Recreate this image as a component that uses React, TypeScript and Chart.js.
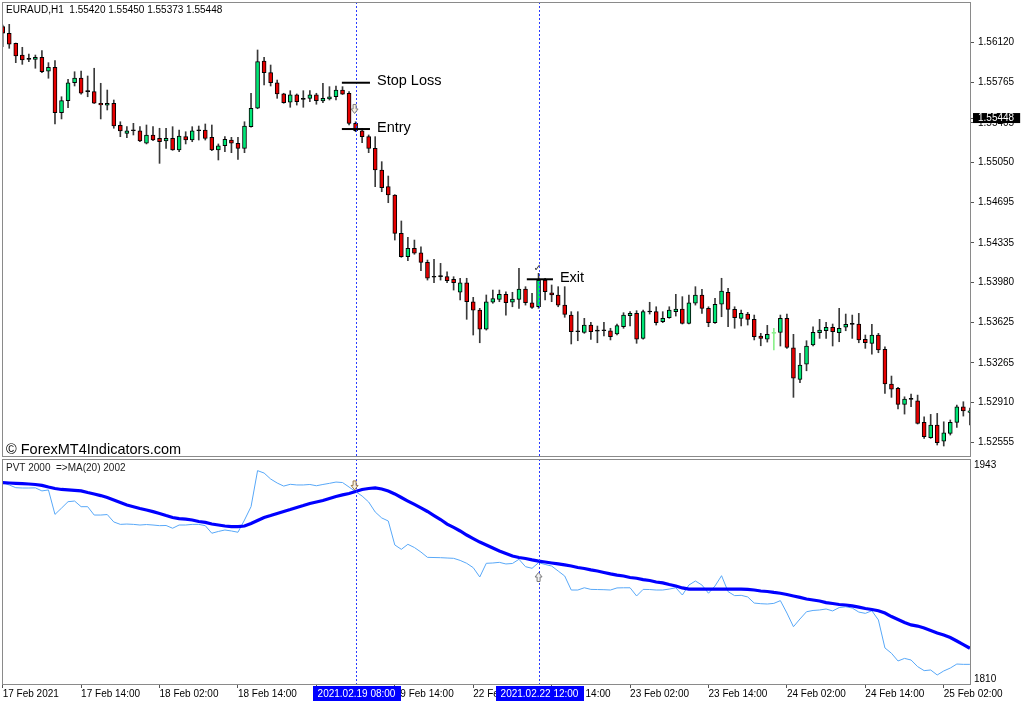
import React, { useEffect, useRef } from "react";
import { Chart, registerables } from "chart.js";

Chart.register(...registerables);

const FONT = "'Liberation Sans', Arial, sans-serif";
const SYMBOL_FONT = "'DejaVu Sans', sans-serif";

// ---------- EURAUD H1 candles (17 Feb 02:00 .. 25 Feb 06:00) ----------
const opens = [
  1.56263, 1.56204, 1.56115, 1.5601, 1.55972, 1.55972, 1.5599, 1.55865, 1.55901, 1.55496,
  1.55603, 1.55763, 1.55805, 1.55683, 1.55683, 1.5558, 1.55562, 1.5558, 1.55383, 1.55312,
  1.55335, 1.55333, 1.55223, 1.55297, 1.55267, 1.55243, 1.55267, 1.55163, 1.55282, 1.55252,
  1.55335, 1.55341, 1.55276, 1.55163, 1.55201, 1.55252, 1.55223, 1.55178, 1.55371, 1.55535,
  1.55957, 1.55853, 1.55763, 1.55663, 1.55589, 1.55654, 1.55615, 1.55624, 1.55654, 1.556,
  1.55618, 1.55638, 1.55698, 1.55669, 1.55401, 1.55333, 1.55282, 1.55178, 1.54985, 1.54836,
  1.54762, 1.5442, 1.54211, 1.54286, 1.54247, 1.54161, 1.54028, 1.54033, 1.54033, 1.5401,
  1.53894, 1.53979, 1.5381, 1.53735, 1.53564, 1.53805, 1.53831, 1.53876, 1.53805, 1.53831,
  1.53923, 1.53801, 1.53765, 1.54003, 1.5389, 1.5387, 1.5378, 1.53691, 1.53542, 1.53537,
  1.53602, 1.53548, 1.53551, 1.53551, 1.53522, 1.53587, 1.53685, 1.53706, 1.53483, 1.53718,
  1.53721, 1.53632, 1.53667, 1.53721, 1.53745, 1.53617, 1.53796, 1.5387, 1.53751, 1.53623,
  1.53787, 1.53894, 1.53742, 1.53662, 1.537, 1.53653, 1.53504, 1.53477, 1.53528, 1.53537,
  1.53662, 1.53399, 1.53118, 1.53254, 1.53424, 1.53533, 1.53551, 1.53582, 1.53533, 1.53582,
  1.53608, 1.53611, 1.53475, 1.53439, 1.53513, 1.53385, 1.53076, 1.53037, 1.52895, 1.52939,
  1.52927, 1.52734, 1.52597, 1.5271, 1.52567, 1.52636, 1.52734, 1.52873, 1.52823,
];
const highs = [
  1.56278, 1.56284, 1.56117, 1.56079, 1.56019, 1.5601, 1.56049, 1.55942, 1.5596, 1.55638,
  1.55794, 1.55861, 1.55868, 1.55823, 1.55892, 1.55758, 1.55698, 1.55609, 1.55415, 1.55371,
  1.55401, 1.55371, 1.55386, 1.55371, 1.55357, 1.55357, 1.55371, 1.55341, 1.55326, 1.55371,
  1.55377, 1.55395, 1.55386, 1.55217, 1.55282, 1.55276, 1.55276, 1.55415, 1.55669, 1.56055,
  1.5599, 1.55921, 1.55787, 1.55669, 1.55692, 1.55663, 1.55692, 1.55692, 1.55669, 1.55758,
  1.55728, 1.55734, 1.55728, 1.55683, 1.55415, 1.55357, 1.55297, 1.55282, 1.55059, 1.54931,
  1.54765, 1.5453, 1.54384, 1.5436, 1.543, 1.54182, 1.54188, 1.54152, 1.54077, 1.54033,
  1.54019, 1.54019, 1.53849, 1.53751, 1.5387, 1.53914, 1.53914, 1.53899, 1.53894, 1.54108,
  1.53944, 1.53885, 1.54063, 1.54019, 1.53959, 1.53944, 1.53944, 1.53721, 1.53721, 1.53662,
  1.53626, 1.53593, 1.53626, 1.53573, 1.53611, 1.53712, 1.53721, 1.5373, 1.53735, 1.53805,
  1.53765, 1.53721, 1.53765, 1.53876, 1.53855, 1.5387, 1.53944, 1.5392, 1.53765, 1.5384,
  1.54019, 1.53929, 1.53765, 1.53735, 1.53715, 1.53691, 1.53528, 1.53599, 1.53573, 1.53691,
  1.537, 1.53519, 1.5335, 1.53462, 1.53587, 1.53653, 1.53626, 1.53611, 1.53751, 1.537,
  1.53691, 1.53706, 1.53513, 1.53608, 1.53528, 1.53408, 1.53147, 1.53046, 1.52962, 1.52986,
  1.52977, 1.52784, 1.52805, 1.52814, 1.52739, 1.52755, 1.52888, 1.52918, 1.52861,
];
const lows = [
  1.56084, 1.5607, 1.55942, 1.55927, 1.55951, 1.55892, 1.55853, 1.55803, 1.55395, 1.5544,
  1.5554, 1.55734, 1.5566, 1.55638, 1.55578, 1.5544, 1.5552, 1.55357, 1.55282, 1.55273,
  1.55297, 1.55237, 1.55217, 1.55246, 1.55044, 1.55178, 1.5516, 1.55148, 1.55217, 1.55237,
  1.55252, 1.55252, 1.55157, 1.55074, 1.55148, 1.55139, 1.5508, 1.55139, 1.55366, 1.55531,
  1.55743, 1.55734, 1.55624, 1.5558, 1.55544, 1.55564, 1.55544, 1.55594, 1.55571, 1.55585,
  1.55609, 1.55609, 1.55658, 1.55386, 1.55326, 1.55228, 1.55139, 1.54836, 1.54791, 1.54693,
  1.5436, 1.54206, 1.54176, 1.54233, 1.54086, 1.54003, 1.53979, 1.54003, 1.53979, 1.53914,
  1.53825, 1.53653, 1.53513, 1.53444, 1.53557, 1.53796, 1.5381, 1.53691, 1.53765, 1.53751,
  1.5378, 1.53751, 1.53751, 1.53825, 1.5381, 1.53765, 1.53671, 1.53433, 1.53462, 1.53528,
  1.53474, 1.53444, 1.53504, 1.53469, 1.53513, 1.53573, 1.53593, 1.53439, 1.53477, 1.537,
  1.53602, 1.53623, 1.53662, 1.53682, 1.53611, 1.53611, 1.5378, 1.53706, 1.53587, 1.53617,
  1.53676, 1.53587, 1.53573, 1.53593, 1.53602, 1.53469, 1.53417, 1.5345, 1.53379, 1.53415,
  1.53394, 1.52957, 1.53087, 1.53194, 1.53415, 1.53483, 1.53483, 1.53415, 1.53453, 1.53551,
  1.53483, 1.53444, 1.53394, 1.53343, 1.53355, 1.52993, 1.52957, 1.52853, 1.52808, 1.52873,
  1.52719, 1.52591, 1.52591, 1.52532, 1.52523, 1.52621, 1.52689, 1.5279, 1.5271,
];
const closes = [
  1.56204, 1.56106, 1.56002, 1.55966, 1.55972, 1.5599, 1.55861, 1.55901, 1.55496, 1.55603,
  1.55763, 1.55805, 1.55669, 1.55683, 1.5558, 1.55564, 1.5558, 1.55377, 1.55333, 1.55333,
  1.55335, 1.55243, 1.55297, 1.55252, 1.55237, 1.55267, 1.55163, 1.55288, 1.55252, 1.55333,
  1.55335, 1.55267, 1.55163, 1.55201, 1.55258, 1.55223, 1.55178, 1.55377, 1.55535, 1.55951,
  1.55853, 1.55763, 1.55663, 1.55585, 1.55654, 1.55594, 1.55615, 1.55654, 1.55603, 1.55624,
  1.55638, 1.55698, 1.5566, 1.55401, 1.55335, 1.55282, 1.55178, 1.54985, 1.54827, 1.54762,
  1.5442, 1.54211, 1.54286, 1.54242, 1.54161, 1.54019, 1.54028, 1.54033, 1.53997, 1.53979,
  1.53979, 1.5381, 1.53735, 1.53564, 1.5381, 1.53837, 1.53876, 1.53801, 1.53834, 1.53923,
  1.53801, 1.5376, 1.54003, 1.53899, 1.5387, 1.5378, 1.53697, 1.53542, 1.53542, 1.53602,
  1.53542, 1.53548, 1.53551, 1.53498, 1.53596, 1.53691, 1.53706, 1.53477, 1.53721, 1.53718,
  1.53623, 1.53662, 1.53735, 1.53745, 1.53617, 1.53801, 1.5387, 1.53751, 1.53623, 1.53787,
  1.53905, 1.53742, 1.53667, 1.53706, 1.53653, 1.53498, 1.53483, 1.53519, 1.53528, 1.53662,
  1.53403, 1.53127, 1.53245, 1.53415, 1.53537, 1.53557, 1.53582, 1.53542, 1.53573, 1.53608,
  1.53608, 1.53469, 1.53444, 1.53513, 1.53379, 1.53076, 1.53031, 1.52895, 1.52942, 1.52939,
  1.52725, 1.52606, 1.5271, 1.52552, 1.52641, 1.52734, 1.52873, 1.52835, 1.52837,
];
const highlightedBars = [118];

// ---------- PVT indicator and its MA(20) ----------
const pvtValues = [
  1932.0, 1930.6, 1928.9, 1928.7, 1928.7, 1928.8, 1926.9, 1927.5, 1912.3, 1916.2,
  1920.2, 1920.6, 1917.1, 1917.1, 1911.9, 1911.9, 1912.2, 1907.6, 1906.1, 1906.3,
  1906.1, 1905.7, 1906.0, 1905.7, 1905.3, 1905.4, 1903.7, 1905.7, 1905.7, 1906.1,
  1906.1, 1905.3, 1900.6, 1901.7, 1902.6, 1902.0, 1901.2, 1908.8, 1917.1, 1939.5,
  1938.0, 1934.3, 1931.8, 1929.9, 1931.0, 1930.6, 1930.6, 1930.9, 1930.1, 1930.9,
  1931.6, 1932.4, 1932.1, 1929.3, 1926.5, 1923.7, 1920.0, 1913.8, 1910.1, 1908.2,
  1893.3, 1890.6, 1893.7, 1891.7, 1888.9, 1885.6, 1885.5, 1885.4, 1885.2, 1885.0,
  1883.7, 1881.9, 1879.2, 1873.4, 1881.9, 1882.1, 1882.5, 1881.5, 1881.8, 1884.4,
  1879.8, 1878.8, 1882.3, 1881.2, 1880.2, 1877.1, 1874.0, 1865.3, 1865.3, 1866.7,
  1865.7, 1865.6, 1865.5, 1865.3, 1866.6, 1866.7, 1866.7, 1861.6, 1865.7, 1865.6,
  1865.3, 1865.3, 1865.9, 1866.7, 1862.2, 1868.4, 1870.9, 1868.4, 1863.3, 1867.8,
  1874.2, 1864.3, 1861.8, 1862.0, 1861.0, 1857.2, 1856.8, 1856.6, 1857.0, 1858.7,
  1851.0, 1842.5, 1847.3, 1851.8, 1852.6, 1852.9, 1853.5, 1852.3, 1854.4, 1854.9,
  1854.1, 1851.6, 1850.8, 1852.4, 1846.7, 1829.3, 1826.0, 1821.2, 1822.8, 1821.8,
  1817.7, 1815.2, 1815.6, 1812.5, 1815.0, 1816.8, 1819.3, 1819.1, 1819.1,
];
const pvtMaValues = [
  1932.0, 1931.8, 1931.6, 1931.4, 1931.2, 1930.9, 1930.3, 1929.3, 1928.4, 1927.8,
  1927.5, 1927.2, 1926.9, 1925.9, 1925.0, 1924.0, 1922.8, 1921.3, 1919.7, 1918.1,
  1917.1, 1916.0, 1915.0, 1914.0, 1912.9, 1911.6, 1910.4, 1909.7, 1909.4, 1908.8,
  1907.9, 1907.3, 1906.3, 1905.7, 1905.1, 1904.7, 1904.7, 1905.1, 1906.6, 1908.5,
  1910.4, 1911.6, 1912.9, 1914.1, 1915.3, 1916.6, 1917.8, 1919.1, 1920.0, 1920.9,
  1922.2, 1923.4, 1924.4, 1925.3, 1926.5, 1927.8, 1928.4, 1928.8, 1928.1, 1926.8,
  1925.0, 1922.8, 1920.6, 1918.5, 1916.3, 1914.1, 1911.6, 1909.1, 1906.3, 1904.2,
  1902.0, 1899.5, 1897.3, 1895.1, 1893.3, 1891.4, 1889.6, 1888.0, 1886.4, 1885.5,
  1884.9, 1884.0, 1883.3, 1882.7, 1882.1, 1881.5, 1880.9, 1880.2, 1879.3, 1878.7,
  1877.8, 1877.1, 1876.2, 1875.3, 1874.6, 1874.0, 1873.1, 1872.6, 1871.8, 1871.2,
  1870.3, 1869.7, 1868.7, 1867.8, 1866.6, 1865.9, 1865.9, 1865.9, 1865.9, 1865.9,
  1865.9, 1865.9, 1865.9, 1865.9, 1865.7, 1865.3, 1864.7, 1864.4, 1863.8, 1863.3,
  1862.5, 1861.6, 1860.7, 1859.7, 1859.1, 1858.5, 1857.5, 1856.9, 1856.3, 1856.0,
  1855.4, 1854.7, 1853.8, 1853.2, 1852.4, 1851.0, 1848.8, 1847.0, 1845.1, 1843.6,
  1842.9, 1841.7, 1840.2, 1838.6, 1837.3, 1835.8, 1833.6, 1831.4, 1829.1,
];

// ---------- axes ----------
const timeTickBars = [0, 12, 24, 36, 48, 60, 72, 84, 96, 108, 120, 132, 144];
const timeTickLabels = [
  "17 Feb 2021", "17 Feb 14:00", "18 Feb 02:00", "18 Feb 14:00", "19 Feb 02:00",
  "19 Feb 14:00", "22 Feb 02:00", "22 Feb 14:00", "23 Feb 02:00", "23 Feb 14:00",
  "24 Feb 02:00", "24 Feb 14:00", "25 Feb 02:00",
];
const priceTicks = [1.5612, 1.55765, 1.55405, 1.5505, 1.54695, 1.54335, 1.5398, 1.53625, 1.53265, 1.5291, 1.52555];
const currentPrice = 1.55448;
const pvtTicks = [1943, 1810];

// ---------- annotations ----------
const headerText = "EURAUD,H1  1.55420 1.55450 1.55373 1.55448";
const watermarkText = "\u00A9 ForexMT4Indicators.com";
const indicatorTitle = "PVT 2000  =>MA(20) 2002";
const markerBars = [54, 82];
const markerLabels = ["2021.02.19 08:00", "2021.02.22 12:00"];
const levelNames = ["Stop Loss", "Entry", "Exit"];
const levelPrices = [1.55763, 1.5535, 1.5401];
const levelFromBar = [51.9, 51.9, 80.2];
const levelToBar = [56.2, 56.2, 84.2];
const entryArrowPrice = 1.55529;
const exitCheckPrice = 1.5411;
const pvtEntryArrow = 1930.3;
const pvtExitArrow = 1873.4;

const X_MIN = -0.107;
const X_MAX = 148.17;
const AXIS_W = 53;

const RED = "#e60000";
const GREEN = "#00e676";
const LIGHT = "#8cf08c";
const MARKER_BLUE = "#2b3cff";

function noPad(s: any) {
  s.paddingTop = 0;
  s.paddingBottom = 0;
  s.paddingLeft = 0;
  s.paddingRight = 0;
}

function drawFrame(chart: any) {
  const { ctx, chartArea: a } = chart;
  ctx.save();
  ctx.strokeStyle = "#8a8a8a";
  ctx.lineWidth = 1;
  ctx.setLineDash([]);
  ctx.strokeRect(a.left + 0.5, a.top + 0.5, a.right - a.left - 1, a.bottom - a.top - 1);
  ctx.restore();
}

function drawMarkerLines(chart: any) {
  const { ctx, chartArea: a, scales } = chart;
  ctx.save();
  ctx.strokeStyle = MARKER_BLUE;
  ctx.lineWidth = 1;
  ctx.setLineDash([2, 2]);
  markerBars.forEach((b) => {
    const px = Math.round(scales.x.getPixelForValue(b)) + 0.5;
    ctx.beginPath();
    ctx.moveTo(px, a.top);
    ctx.lineTo(px, a.bottom);
    ctx.stroke();
  });
  ctx.restore();
}

// hollow MT4-style signal arrow; dir = 1 points down, -1 points up
function drawHollowArrow(ctx: any, cx: number, cy: number, dir: number, stroke: string, fill: string) {
  const pts = [
    [-1.5, -4.5], [1.5, -4.5], [1.5, 0], [3.5, 0], [0, 4.5], [-3.5, 0], [-1.5, 0],
  ];
  ctx.save();
  ctx.beginPath();
  pts.forEach(([px, py], i) => {
    const X = cx + px;
    const Y = cy + py * dir;
    if (i === 0) ctx.moveTo(X, Y);
    else ctx.lineTo(X, Y);
  });
  ctx.closePath();
  ctx.fillStyle = fill;
  ctx.fill();
  ctx.strokeStyle = stroke;
  ctx.lineWidth = 1;
  ctx.setLineDash([]);
  ctx.stroke();
  ctx.restore();
}

const topDecor = {
  id: "topDecor",
  afterDatasetsDraw(chart: any) {
    const { ctx, scales } = chart;
    const x = scales.x;
    const y = scales.y;
    drawMarkerLines(chart);
    ctx.save();
    levelNames.forEach((name, i) => {
      const py = y.getPixelForValue(levelPrices[i]);
      const x0 = x.getPixelForValue(levelFromBar[i]);
      const x1 = x.getPixelForValue(levelToBar[i]);
      ctx.strokeStyle = "#000";
      ctx.lineWidth = 2;
      ctx.beginPath();
      ctx.moveTo(x0, py);
      ctx.lineTo(x1, py);
      ctx.stroke();
      ctx.fillStyle = "#000";
      ctx.font = `14.5px ${FONT}`;
      ctx.textAlign = "left";
      ctx.textBaseline = "middle";
      ctx.fillText(name, x1 + 7, py - 1.5);
    });
    ctx.textAlign = "center";
    ctx.textBaseline = "middle";
    ctx.font = `10px ${SYMBOL_FONT}`;
    ctx.fillStyle = "#333";
    ctx.fillText("\u2713", x.getPixelForValue(markerBars[1]) - 1, y.getPixelForValue(exitCheckPrice));
    ctx.restore();
    drawHollowArrow(ctx, x.getPixelForValue(markerBars[0]) - 1, y.getPixelForValue(entryArrowPrice), 1, "#808080", "#f4f0e0");
  },
  afterDraw(chart: any) {
    const { ctx } = chart;
    drawFrame(chart);
    ctx.save();
    ctx.fillStyle = "#000";
    ctx.textAlign = "left";
    ctx.textBaseline = "middle";
    ctx.font = `10px ${FONT}`;
    ctx.fillText(headerText, 6, 10.5);
    ctx.font = `14.5px ${FONT}`;
    ctx.fillText(watermarkText, 6, 449.5);
    ctx.restore();
  },
};

const bottomDecor = {
  id: "bottomDecor",
  afterDatasetsDraw(chart: any) {
    const { ctx, scales } = chart;
    drawMarkerLines(chart);
    drawHollowArrow(ctx, scales.x.getPixelForValue(markerBars[0]) - 1, scales.y.getPixelForValue(pvtEntryArrow), 1, "#9a7a4a", "#f6efe0");
    drawHollowArrow(ctx, scales.x.getPixelForValue(markerBars[1]), scales.y.getPixelForValue(pvtExitArrow), -1, "#7a7a7a", "#f0f0f0");
  },
  afterDraw(chart: any) {
    const { ctx, scales, chartArea: a } = chart;
    drawFrame(chart);
    ctx.save();
    ctx.fillStyle = "#222";
    ctx.textAlign = "left";
    ctx.textBaseline = "middle";
    ctx.font = `10px ${FONT}`;
    ctx.fillText(indicatorTitle, 6, 10);
    ctx.textAlign = "center";
    markerBars.forEach((b, i) => {
      const px = Math.round(scales.x.getPixelForValue(b)) + 0.5;
      const w = ctx.measureText(markerLabels[i]).width + 10;
      ctx.fillStyle = "#0000ff";
      ctx.fillRect(Math.round(px - w / 2), a.bottom + 1, Math.round(w), 15);
      ctx.fillStyle = "#fff";
      ctx.fillText(markerLabels[i], px, a.bottom + 9);
    });
    ctx.restore();
  },
};

export default function App() {
  const topRef = useRef<HTMLCanvasElement>(null);
  const botRef = useRef<HTMLCanvasElement>(null);

  useEffect(() => {
    Chart.defaults.font.family = FONT;
    Chart.defaults.font.size = 10;
    Chart.defaults.color = "#000";

    const idx = opens.map((_, i) => i);
    const wickData = idx.map((i) => ({ x: i, y: [lows[i], highs[i]] }));
    const bodyData = idx.map((i) => ({ x: i, y: [opens[i], closes[i]] }));
    const isLight = (i: number) => highlightedBars.includes(i);
    const wickColors = idx.map((i) => (isLight(i) ? LIGHT : "#3a3a3a"));
    const bodyColors = idx.map((i) =>
      isLight(i) ? LIGHT : closes[i] > opens[i] ? GREEN : closes[i] < opens[i] ? RED : "#000"
    );
    const bodyBorders = idx.map((i) => (isLight(i) ? LIGHT : "#000"));

    const topTickValues = [...priceTicks, currentPrice];

    const top = new Chart(topRef.current as HTMLCanvasElement, {
      type: "bar",
      data: {
        datasets: [
          {
            data: wickData as any,
            backgroundColor: wickColors,
            borderWidth: 0,
            barThickness: 1,
            grouped: false,
            order: 2,
          } as any,
          {
            data: bodyData as any,
            backgroundColor: bodyColors,
            borderColor: bodyBorders,
            borderWidth: 1,
            borderSkipped: false,
            barThickness: 4,
            minBarLength: 1,
            grouped: false,
            order: 1,
          } as any,
        ],
      },
      options: {
        animation: false,
        responsive: false,
        devicePixelRatio: 1,
        events: [],
        layout: { padding: { top: 2, bottom: 1, left: 2, right: 0 } },
        plugins: { legend: { display: false }, tooltip: { enabled: false } },
        scales: {
          x: {
            type: "linear",
            min: X_MIN,
            max: X_MAX,
            offset: false,
            display: false,
            grid: { offset: false },
            afterFit: noPad,
          },
          y: {
            position: "right",
            min: 1.52425,
            max: 1.56483,
            afterFit: (s: any) => {
              s.width = AXIS_W;
              noPad(s);
            },
            afterBuildTicks: (s: any) => {
              s.ticks = topTickValues.map((v) => ({ value: v }));
            },
            border: { display: false },
            grid: { drawOnChartArea: false, drawTicks: true, tickLength: 3, color: "#555" },
            ticks: {
              autoSkip: false,
              padding: 4,
              font: { size: 10, family: FONT },
              callback: (v: any) => Number(v).toFixed(5),
              color: (c: any) => (c.tick && c.tick.value === currentPrice ? "#fff" : "#000"),
              showLabelBackdrop: (c: any) => !!(c.tick && c.tick.value === currentPrice),
              backdropColor: "#000",
              backdropPadding: { left: 5, right: 6, top: -1, bottom: -1 },
            } as any,
          },
        },
      } as any,
      plugins: [topDecor],
    });

    const bottom = new Chart(botRef.current as HTMLCanvasElement, {
      type: "line",
      data: {
        datasets: [
          {
            data: idx.map((i) => ({ x: i, y: pvtValues[i] })),
            borderColor: "#58a8f8",
            borderWidth: 1,
            pointRadius: 0,
            tension: 0,
            order: 2,
          },
          {
            data: idx.map((i) => ({ x: i, y: pvtMaValues[i] })),
            borderColor: "#0000ff",
            borderWidth: 3.2,
            pointRadius: 0,
            tension: 0,
            order: 1,
          },
        ],
      },
      options: {
        animation: false,
        responsive: false,
        devicePixelRatio: 1,
        events: [],
        layout: { padding: { top: 1, bottom: 0, left: 2, right: 0 } },
        plugins: { legend: { display: false }, tooltip: { enabled: false } },
        scales: {
          x: {
            type: "linear",
            min: X_MIN,
            max: X_MAX,
            offset: false,
            position: "bottom",
            afterFit: (s: any) => {
              s.height = 20;
              noPad(s);
            },
            afterBuildTicks: (s: any) => {
              s.ticks = timeTickBars.map((v) => ({ value: v }));
            },
            border: { display: false },
            grid: { drawOnChartArea: false, drawTicks: true, tickLength: 3, color: "#555", offset: false },
            ticks: {
              autoSkip: false,
              maxRotation: 0,
              minRotation: 0,
              align: "start",
              padding: 0,
              font: { size: 10, family: FONT },
              color: "#000",
              callback: (_v: any, i: number) => timeTickLabels[i],
            },
          },
          y: {
            position: "right",
            min: 1806.27,
            max: 1946.73,
            afterFit: (s: any) => {
              s.width = AXIS_W;
              noPad(s);
            },
            afterBuildTicks: (s: any) => {
              s.ticks = pvtTicks.map((v) => ({ value: v }));
            },
            border: { display: false },
            grid: { drawOnChartArea: false, drawTicks: false },
            ticks: {
              autoSkip: false,
              padding: 3,
              font: { size: 10, family: FONT },
              color: "#000",
              callback: (v: any) => String(v),
            },
          },
        },
      } as any,
      plugins: [bottomDecor],
    });

    return () => {
      top.destroy();
      bottom.destroy();
    };
  }, []);

  return (
    <div style={{ position: "fixed", left: 0, top: 0, width: 1024, height: 705, background: "#fff", overflow: "hidden" }}>
      <canvas ref={topRef} width={1024} height={458} style={{ position: "absolute", left: 0, top: 0, width: 1024, height: 458 }} />
      <canvas ref={botRef} width={1024} height={247} style={{ position: "absolute", left: 0, top: 458, width: 1024, height: 247 }} />
    </div>
  );
}
